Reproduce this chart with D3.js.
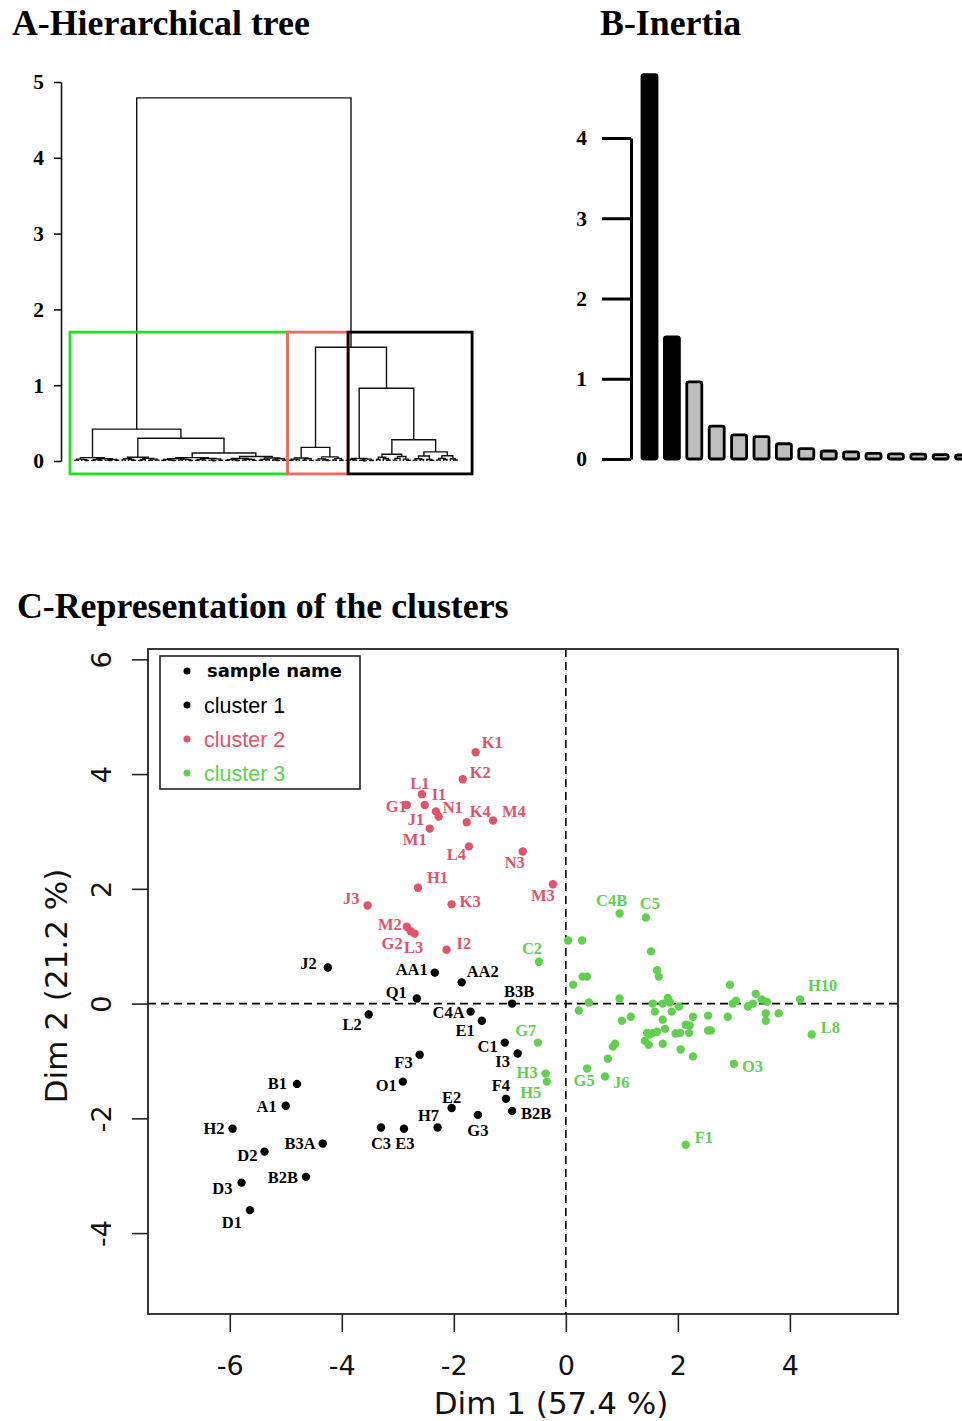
<!DOCTYPE html>
<html>
<head>
<meta charset="utf-8">
<script src="https://cdn.jsdelivr.net/npm/d3@7"></script>
<style>
  body { margin: 0; background: #fff; }
  svg { display: block; }
</style>
</head>
<body>
<svg id="fig" width="962" height="1421"></svg>
<script>
// ---------- data ----------
// dendrogram: internal node = [height, left, right], leaf = 0
const greenA = [0.045, [0.025, [0.012, 0, 0], [0.018, 0, [0.006, 0, 0]]],
  [0.03, [0.02, [0.008, 0, 0], [0.01, 0, 0]], [0.022, [0.012, 0, [0.005, 0, 0]], [0.009, 0, 0]]]];
const greenB1 = [0.05, [0.03, [0.015, 0, 0], [0.02, 0, [0.008, 0, 0]]],
  [0.035, [0.018, [0.006, 0, 0], 0], [0.025, [0.01, 0, 0], [0.012, 0, 0]]]];
const greenB2a = [0.045, [0.03, [0.02, [0.01, 0, 0], [0.012, 0, [0.005, 0, 0]]], [0.025, [0.015, 0, 0], [0.018, 0, [0.007, 0, 0]]]],
  [0.035, [0.02, [0.008, 0, 0], [0.014, 0, 0]], [0.028, [0.012, 0, [0.004, 0, 0]], [0.01, 0, 0]]]];
const greenB2b = [0.06, [0.032, [0.018, [0.009, 0, 0], [0.015, 0, [0.006, 0, 0]]], [0.024, [0.011, 0, 0], [0.02, 0, [0.008, 0, 0]]]],
  [0.04, [0.022, [0.01, 0, 0], [0.016, 0, 0]], [0.03, [0.013, 0, [0.005, 0, 0]], [0.009, 0, 0]]]];
const redTree = [0.18, [0.04, [0.025, [0.01, 0, 0], [0.015, 0, 0]], [0.03, [0.012, 0, 0], [0.008, 0, 0]]],
  [0.055, [0.028, [0.011, 0, 0], [0.017, 0, [0.006, 0, 0]]], [0.035, [0.014, 0, 0], [0.009, 0, 0]]]];
const blackA = [0.035, [0.02, [0.008, 0, 0], [0.013, 0, 0]], [0.025, [0.01, 0, [0.004, 0, 0]], [0.007, 0, 0]]];
const blackB1 = [0.09, [0.05, [0.02, 0, 0], [0.03, 0, [0.01, 0, 0]]], [0.06, [0.035, [0.012, 0, 0], 0], [0.025, 0, [0.01, 0, 0]]]];
const blackB2 = [0.12, [0.065, [0.03, [0.012, 0, 0], [0.018, 0, 0]], [0.02, 0, [0.008, 0, 0]]],
  [0.07, [0.035, [0.015, 0, 0], [0.02, 0, 0]], [0.03, 0, [0.014, 0, 0]]]];
const treeRoot = [4.79, [0.42, greenA, [0.30, greenB1, [0.105, greenB2a, greenB2b]]],
  [1.5, redTree, [0.96, blackA, [0.28, blackB1, blackB2]]]];

// cluster rectangles, in leaf-index units
const boxEdges = [-1.5, 63.4, 81.5, 118.5];
const boxTop = 1.7;

// inertia gains
const inertia = [4.79, 1.52, 0.96, 0.41, 0.30, 0.28, 0.19, 0.13, 0.10, 0.09, 0.07, 0.065, 0.06, 0.055, 0.05];

// factor map: [name, Dim 1, Dim 2]
const cluster1 = [
  ["J2", -4.25, 0.63], ["AA1", -2.34, 0.54], ["AA2", -1.86, 0.37], ["Q1", -2.66, 0.09],
  ["B3B", -0.96, 0.00], ["L2", -3.52, -0.19], ["C4A", -1.70, -0.14], ["E1", -1.50, -0.30],
  ["C1", -1.09, -0.68], ["I3", -0.86, -0.87], ["F3", -2.61, -0.89], ["O1", -2.91, -1.36],
  ["B1", -4.80, -1.40], ["A1", -5.00, -1.78], ["H2", -5.95, -2.18], ["B3A", -4.34, -2.44],
  ["D2", -5.38, -2.58], ["B2B", -4.64, -3.02], ["D3", -5.79, -3.12], ["D1", -5.64, -3.60],
  ["C3", -3.30, -2.16], ["E3", -2.89, -2.18], ["H7", -2.29, -2.16], ["E2", -2.04, -1.82],
  ["G3", -1.57, -1.94], ["F4", -1.07, -1.66], ["B2B", -0.96, -1.87]
];
const cluster2 = [
  ["K1", -1.61, 4.38], ["K2", -1.84, 3.91], ["L1", -2.57, 3.65], ["G1", -2.84, 3.46],
  ["I1", -2.52, 3.46], ["J1", -2.32, 3.35], ["N1", -2.27, 3.26], ["M1", -2.43, 3.05],
  ["K4", -1.77, 3.16], ["M4", -1.30, 3.19], ["L4", -1.73, 2.74], ["N3", -0.77, 2.65],
  ["H1", -2.64, 2.02], ["M3", -0.23, 2.08], ["J3", -3.54, 1.71], ["K3", -2.04, 1.73],
  ["M2", -2.84, 1.34], ["G2", -2.77, 1.26], ["L3", -2.70, 1.22], ["I2", -2.13, 0.94]
];
const cluster3 = [
  ["C2", -0.48, 0.73], ["G7", -0.50, -0.68], ["H3", -0.36, -1.22], ["H5", -0.34, -1.36],
  ["C4B", 0.96, 1.57], ["C5", 1.43, 1.50], ["H10", 4.18, 0.07], ["L8", 4.39, -0.54],
  ["O3", 3.00, -1.05], ["G5", 0.38, -1.13], ["J6", 0.70, -1.27], ["F1", 2.14, -2.46],
  ["", 0.04, 1.10], ["", 0.29, 1.10], ["", 1.52, 0.91], ["", 1.63, 0.58], ["", 1.66, 0.47],
  ["", 0.13, 0.33], ["", 0.30, 0.47], ["", 0.38, 0.47], ["", 2.93, 0.33], ["", 0.23, -0.12],
  ["", 0.41, 0.02], ["", 0.96, 0.09], ["", 1.00, -0.30], ["", 1.16, -0.23], ["", 1.55, 0.00],
  ["", 1.73, 0.00], ["", 1.82, 0.10], ["", 1.86, 0.02], ["", 2.02, -0.05], ["", 1.59, -0.14],
  ["", 1.89, -0.14], ["", 1.73, -0.28], ["", 1.77, -0.44], ["", 1.45, -0.51], ["", 1.50, -0.54],
  ["", 1.55, -0.51], ["", 1.63, -0.49], ["", 1.41, -0.65], ["", 1.48, -0.72], ["", 1.73, -0.70],
  ["", 1.96, -0.52], ["", 2.04, -0.51], ["", 2.14, -0.37], ["", 2.21, -0.38], ["", 2.27, -0.23],
  ["", 2.20, -0.51], ["", 2.54, -0.21], ["", 2.54, -0.47], ["", 2.59, -0.47], ["", 2.89, -0.23],
  ["", 2.98, 0.00], ["", 3.04, 0.05], ["", 3.25, -0.05], ["", 3.34, 0.00], ["", 3.39, 0.17],
  ["", 3.50, 0.07], ["", 3.59, 0.03], ["", 3.57, -0.17], ["", 3.57, -0.30], ["", 3.80, -0.17],
  ["", 2.05, -0.80], ["", 2.27, -0.92], ["", 0.88, -0.70], ["", 0.84, -0.75], ["", 0.75, -0.96]
];
const legendLabels = ["cluster 1", "cluster 2", "cluster 3"];

// label placement: [anchor, dx, dy] in px relative to the point
const labelAt = {
  K1: ["start", 6, -10], K2: ["start", 7, -7], L1: ["middle", -2, -11], G1: ["end", 0, 1],
  I1: ["start", 7, -11], J1: ["middle", -20, 8], N1: ["start", 4, -9], M1: ["middle", -15, 11],
  K4: ["start", 3, -11], M4: ["start", 9, -9], L4: ["end", -3, 8], N3: ["middle", -8, 11],
  H1: ["start", 9, -10], M3: ["middle", -10, 11], J3: ["end", -8, -7], K3: ["start", 8, -3],
  M2: ["end", -5, -2], G2: ["end", -8, 12], L3: ["middle", -1, 14], I2: ["start", 10, -6],
  J2: ["end", -11, -4], AA1: ["end", -7, -3], AA2: ["start", 5, -11], Q1: ["end", -10, -6],
  B3B: ["middle", 7, -12], L2: ["end", -7, 10], C4A: ["end", -6, 1], E1: ["end", -7, 9],
  C1: ["end", -7, 4], I3: ["middle", -15, 8], F3: ["end", -7, 8], O1: ["end", -6, 4],
  B1: ["end", -10, -1], A1: ["end", -9, 1], H2: ["end", -8, 0], B3A: ["end", -7, 0],
  D2: ["end", -7, 4], B2B: ["end", -8, 0], D3: ["end", -9, 6], D1: ["end", -8, 12],
  C3: ["middle", 0, 16], E3: ["middle", 1, 15], H7: ["middle", -9, -12], E2: ["middle", 0, -11],
  G3: ["middle", 0, 15], F4: ["middle", -5, -14], "B2B#2": ["start", 9, 2],
  C2: ["middle", -7, -13], G7: ["middle", -12, -12], H3: ["end", -8, -1], H5: ["middle", -16, 11],
  C4B: ["middle", -8, -13], C5: ["middle", 4, -14], H10: ["start", 8, -14], L8: ["start", 9, -7],
  O3: ["start", 8, 2], G5: ["middle", -3, 12], J6: ["start", 8, 6], F1: ["start", 9, -8]
};

// ---------- styles ----------
const SERIF = "'Liberation Serif', 'Times New Roman', serif";
const SANS = "'DejaVu Sans', sans-serif";
const ARIAL = "'Liberation Sans', Arial, sans-serif";
const colors = ["#000000", "#DF536B", "#61D04F"];
const boxColors = ["#22e022", "#f76565", "#000000"];

const svg = d3.select("#fig");

function title(x, y, t) {
  svg.append("text").attr("x", x).attr("y", y)
    .attr("font-family", SERIF).attr("font-weight", "bold").attr("font-size", 35.8)
    .text(t);
}
title(12, 35, "A-Hierarchical tree");
title(600, 35, "B-Inertia");
title(17, 618, "C-Representation of the clusters");

// ---------- A: dendrogram ----------
const yA = d3.scaleLinear().domain([0, 5]).range([461, 82]);
const xA = d3.scaleLinear().domain([0, 114]).range([75, 457]);

const root = d3.hierarchy(treeRoot, d => Array.isArray(d) ? d.slice(1) : null);
root.leaves().forEach((l, i) => { l.px = xA(i); });
root.eachAfter(n => {
  n.h = Array.isArray(n.data) ? n.data[0] : 0;
  if (n.children) n.px = (n.children[0].px + n.children[1].px) / 2;
});

const gA = svg.append("g");
gA.selectAll("path.link")
  .data(root.descendants().filter(n => n.children))
  .join("path")
  .attr("class", "link")
  .attr("fill", "none")
  .attr("stroke", "#111")
  .attr("stroke-width", 1.4)
  .attr("d", n => {
    const [a, b] = n.children;
    return `M${a.px},${yA(a.h)}V${yA(n.h)}H${b.px}V${yA(b.h)}`;
  });

gA.selectAll("rect.clbox")
  .data(d3.range(3))
  .join("rect")
  .attr("class", "clbox")
  .attr("x", i => xA(boxEdges[i]))
  .attr("width", i => xA(boxEdges[i + 1]) - xA(boxEdges[i]))
  .attr("y", yA(boxTop))
  .attr("height", yA(-0.17) - yA(boxTop))
  .attr("fill", "none")
  .attr("stroke", i => boxColors[i])
  .attr("stroke-width", 2.8);

const axA = svg.append("g")
  .attr("transform", "translate(61,0)")
  .call(d3.axisLeft(yA).ticks(5).tickSize(7).tickSizeOuter(0).tickPadding(10));
axA.selectAll("path, line").attr("stroke", "#111").attr("stroke-width", 1.6);
axA.selectAll("text").attr("font-family", SERIF).attr("font-weight", "bold")
  .attr("font-size", 21.5).attr("fill", "#000");

// ---------- B: inertia ----------
const xB = d3.scaleBand().domain(d3.range(1, 16)).range([638.3, 974.3])
  .paddingInner(0.33).paddingOuter(0.165);
const yB = d3.scaleLinear().domain([0, 4]).range([459, 138]);

svg.append("g").selectAll("rect")
  .data(inertia)
  .join("rect")
  .attr("x", (d, i) => xB(i + 1))
  .attr("y", d => yB(d))
  .attr("width", xB.bandwidth())
  .attr("height", d => yB(0) - yB(d))
  .attr("rx", 2)
  .attr("fill", (d, i) => i < 2 ? "#000" : "#bebebe")
  .attr("stroke", "#000")
  .attr("stroke-width", 2.8);

const axB = svg.append("g")
  .attr("transform", "translate(631,0)")
  .call(d3.axisLeft(yB).ticks(4).tickSize(29).tickSizeOuter(0).tickPadding(15));
axB.selectAll("path, line").attr("stroke", "#000").attr("stroke-width", 3);
axB.selectAll("text").attr("font-family", SERIF).attr("font-weight", "bold")
  .attr("font-size", 21.5).attr("fill", "#000");

// ---------- C: factor map ----------
const xC = d3.scaleLinear().domain([-7.46, 5.93]).range([148, 898]);
const yC = d3.scaleLinear().domain([-5.41, 6.18]).range([1314, 649]);

const gC = svg.append("g");
gC.append("line")
  .attr("x1", xC.range()[0]).attr("x2", xC.range()[1])
  .attr("y1", yC(0)).attr("y2", yC(0));
gC.append("line")
  .attr("x1", xC(0)).attr("x2", xC(0))
  .attr("y1", yC.range()[1]).attr("y2", yC.range()[0]);
gC.selectAll("line").attr("stroke", "#000").attr("stroke-width", 1.6).attr("stroke-dasharray", "8,5");

const points = [];
[cluster1, cluster2, cluster3].forEach((cl, k) => {
  cl.forEach(d => points.push({ name: d[0], x: d[1], y: d[2], col: colors[k] }));
});
const seen = {};
points.forEach(p => {
  if (!p.name) return;
  seen[p.name] = (seen[p.name] || 0) + 1;
  p.key = seen[p.name] > 1 ? `${p.name}#${seen[p.name]}` : p.name;
});

gC.selectAll("circle")
  .data(points)
  .join("circle")
  .attr("cx", d => xC(d.x))
  .attr("cy", d => yC(d.y))
  .attr("r", 4.2)
  .attr("fill", d => d.col);

gC.selectAll("text.lab")
  .data(points.filter(p => p.name))
  .join("text")
  .attr("class", "lab")
  .attr("x", d => xC(d.x) + labelAt[d.key][1])
  .attr("y", d => yC(d.y) + labelAt[d.key][2])
  .attr("dy", "0.35em")
  .attr("text-anchor", d => labelAt[d.key][0])
  .attr("font-family", SERIF)
  .attr("font-weight", "bold")
  .attr("font-size", 16.5)
  .attr("fill", d => d.col)
  .text(d => d.name);

// frame
svg.append("rect")
  .attr("x", 148).attr("y", 649)
  .attr("width", 750).attr("height", 665)
  .attr("fill", "none").attr("stroke", "#222").attr("stroke-width", 1.8);

// axes (plain hyphen for negatives, as in the original)
const plain = d => String(d);
const axX = svg.append("g")
  .attr("transform", "translate(0,1314)")
  .call(d3.axisBottom(xC).tickValues([-6, -4, -2, 0, 2, 4]).tickFormat(plain).tickSize(18).tickPadding(24));
axX.select(".domain").remove();
axX.selectAll("line").attr("stroke", "#222").attr("stroke-width", 1.6);
axX.selectAll("text").attr("font-family", SANS).attr("font-size", 27).attr("fill", "#111");

const axY = svg.append("g")
  .attr("transform", "translate(148,0)")
  .call(d3.axisLeft(yC).tickValues([-4, -2, 0, 2, 4, 6]).tickFormat(plain).tickSize(16));
axY.select(".domain").remove();
axY.selectAll("line").attr("stroke", "#222").attr("stroke-width", 1.6);
axY.selectAll("text")
  .attr("x", 0).attr("dy", 0)
  .attr("text-anchor", "middle")
  .attr("transform", "translate(-37,0) rotate(-90)")
  .attr("font-family", SANS).attr("font-size", 27).attr("fill", "#111");

svg.append("text")
  .attr("x", 551).attr("y", 1414)
  .attr("text-anchor", "middle")
  .attr("font-family", SANS).attr("font-size", 31).attr("fill", "#111")
  .text("Dim 1 (57.4 %)");
svg.append("text")
  .attr("transform", "translate(67,986) rotate(-90)")
  .attr("text-anchor", "middle")
  .attr("font-family", SANS).attr("font-size", 31).attr("fill", "#111")
  .text("Dim 2 (21.2 %)");

// legend
const lg = svg.append("g");
lg.append("rect")
  .attr("x", 160).attr("y", 656).attr("width", 200).attr("height", 133)
  .attr("fill", "#fff").attr("stroke", "#222").attr("stroke-width", 1.6);
lg.append("circle").attr("cx", 187).attr("cy", 671).attr("r", 3.5).attr("fill", "#000");
lg.append("text").attr("x", 207).attr("y", 671).attr("dy", "0.35em")
  .attr("font-family", SANS).attr("font-weight", "bold").attr("font-size", 18)
  .text("sample name");
lg.selectAll("g.item")
  .data(legendLabels)
  .join("g")
  .attr("class", "item")
  .attr("transform", (d, i) => `translate(0,${705 + i * 34})`)
  .each(function (d, i) {
    const g = d3.select(this);
    g.append("circle").attr("cx", 187).attr("cy", 0).attr("r", 3.5).attr("fill", colors[i]);
    g.append("text").attr("x", 204).attr("y", 0).attr("dy", "0.35em")
      .attr("font-family", ARIAL).attr("font-size", 21.5).attr("fill", colors[i])
      .text(d);
  });
</script>
</body>
</html>
